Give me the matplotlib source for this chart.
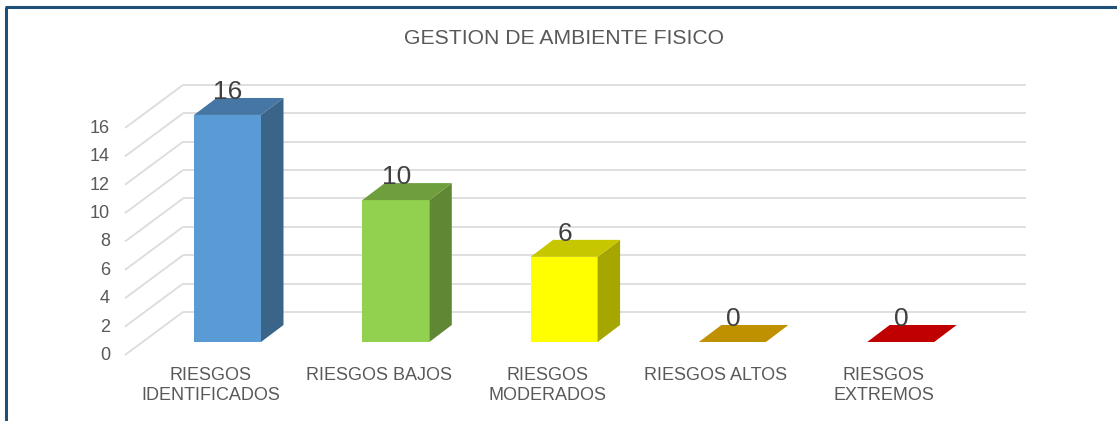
import matplotlib
matplotlib.use("Agg")
import matplotlib.pyplot as plt
from matplotlib.patches import Polygon, Rectangle

plt.rcParams['font.family'] = ['Liberation Sans', 'DejaVu Sans']

title = "GESTION DE AMBIENTE FISICO"
categories = ["RIESGOS\nIDENTIFICADOS", "RIESGOS BAJOS", "RIESGOS\nMODERADOS", "RIESGOS ALTOS", "RIESGOS\nEXTREMOS"]
values = [16, 10, 6, 0, 0]
y_ticks = [0, 2, 4, 6, 8, 10, 12, 14, 16]
front_colors = ["#5B9BD5", "#92D050", "#FFFF00", "#FFC000", "#FF0000"]
side_colors = ["#3A6488", "#5F8734", "#A6A600", "#A67C00", "#A60000"]
top_colors = ["#4676A3", "#6F9E3C", "#C7C700", "#BF9000", "#C00000"]

W, H = 1117, 421
PX_CAT = 168.3      # pixels per category
PX_VAL = 14.19      # pixels per value unit
X0_PX, Y0_PX = 227.5, 342.0

fig = plt.figure(figsize=(W / 100, H / 100), dpi=100, facecolor="white")
ax = fig.add_axes([0, 0, 1, 1])
ax.set_xlim(-X0_PX / PX_CAT, (W - X0_PX) / PX_CAT)
ax.set_ylim((Y0_PX - H) / PX_VAL, Y0_PX / PX_VAL)
ax.axis("off")

def dx(px):
    return px / PX_CAT

def dy(px):
    return px / PX_VAL

# gridlines on the back wall and side wall
back_left, back_right = dx(183 - X0_PX), dx(1026 - X0_PX)
front_left = dx(125 - X0_PX)
wall_dy, front_dy = dy(30), dy(-13)
for v in y_ticks:
    ax.plot([back_left, back_right], [v + wall_dy] * 2, color="#DCDCDC", lw=1.3,
            zorder=1, solid_capstyle="butt")
    ax.plot([front_left, back_left], [v + front_dy, v + wall_dy], color="#DCDCDC",
            lw=1.3, zorder=1, solid_capstyle="butt")

# 3D bars
half = dx(33.5)
ddx, ddy = dx(22.5), dy(17)
for i, v in enumerate(values):
    l, r = i - half, i + half
    if v > 0:
        ax.add_patch(Rectangle((l, 0), 2 * half, v, fc=front_colors[i], ec="none", zorder=3))
        ax.add_patch(Polygon([(r, 0), (r + ddx, ddy), (r + ddx, v + ddy), (r, v)],
                             fc=side_colors[i], ec="none", zorder=3))
    ax.add_patch(Polygon([(l, v), (r, v), (r + ddx, v + ddy), (l + ddx, v + ddy)],
                         fc=top_colors[i], ec="none", zorder=3))
    ax.text(i + dx(0.5), v + dy(23), str(v), ha="center", va="center",
            fontsize=19, color="#404040", zorder=5)

# tick labels
for v in y_ticks:
    ax.text(dx(110 - X0_PX), v + front_dy + dy(-0.5), str(v), ha="right", va="center",
            fontsize=13, color="#595959")
for i, c in enumerate(categories):
    ax.text(i + dx(-17), dy(Y0_PX - 366.5), c, ha="center", va="top", fontsize=13,
            color="#595959", linespacing=1.28)

ax.text(dx(564 - X0_PX), dy(Y0_PX - 38.5), title, ha="center", va="center",
        fontsize=15.2, color="#595959")

# frame (top and left edges of the chart box)
ax.plot([dx(6 - X0_PX), dx(6 - X0_PX)], [dy(Y0_PX - 421), dy(Y0_PX - 7)], color="#1F4E79", lw=2.2, zorder=6,
        solid_capstyle="butt")
ax.plot([dx(5 - X0_PX), dx(1117 - X0_PX)], [dy(Y0_PX - 7)] * 2, color="#1F4E79", lw=2.2, zorder=6,
        solid_capstyle="butt")

fig.savefig("out.png", dpi=100)
